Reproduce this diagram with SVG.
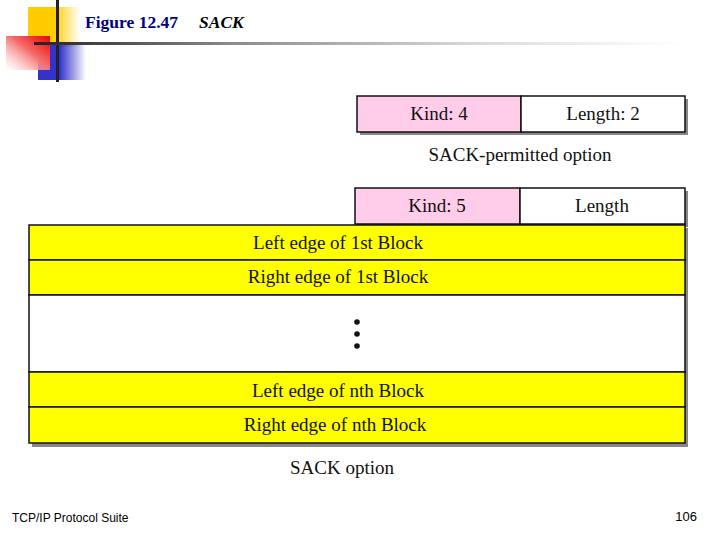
<svg xmlns="http://www.w3.org/2000/svg" width="720" height="540" viewBox="0 0 720 540">
<defs>
<linearGradient id="gy" x1="0" y1="0" x2="1" y2="0"><stop offset="0" stop-color="#ffcc00"/><stop offset="0.5" stop-color="#ffcc00"/><stop offset="1" stop-color="#ffcc00" stop-opacity="0"/></linearGradient>
<linearGradient id="gb" x1="0" y1="0" x2="1" y2="0"><stop offset="0" stop-color="#3333cc"/><stop offset="0.45" stop-color="#3333cc"/><stop offset="1" stop-color="#3333cc" stop-opacity="0"/></linearGradient>
<linearGradient id="gr" x1="1" y1="0" x2="0" y2="1"><stop offset="0" stop-color="#ee0000"/><stop offset="0.45" stop-color="#f66a6a"/><stop offset="1" stop-color="#ffffff" stop-opacity="0.5"/></linearGradient>
<linearGradient id="gl" x1="0" y1="0" x2="1" y2="0"><stop offset="0" stop-color="#222222"/><stop offset="0.3" stop-color="#8a8a8a"/><stop offset="0.7" stop-color="#dddddd"/><stop offset="1" stop-color="#ffffff"/></linearGradient>
<style>
.t{font-family:"Liberation Serif","Times New Roman",serif;font-size:19px;fill:#111;text-anchor:middle}
.box{stroke:#111;stroke-width:1.5}
.pink{fill:#ffccea}
.white{fill:#ffffff}
.yel{fill:#ffff00}
.sh{fill:#888888}
</style>
</defs>
<g id="decoration">
<rect x="28" y="7" width="52" height="40" fill="url(#gy)"/>
<rect x="38" y="45" width="48" height="35" fill="url(#gb)"/>
<rect x="6" y="36" width="44" height="34" fill="url(#gr)"/>
<rect x="56" y="0" width="3" height="82" fill="#222"/>
<rect x="34" y="42" width="650" height="3" fill="url(#gl)"/>
</g>
<g id="title">
<text x="85" y="28" font-family="Liberation Serif,serif" font-size="17.5" font-weight="bold" fill="#000080">Figure 12.47</text>
<text x="199" y="28" font-family="Liberation Serif,serif" font-size="17.5" font-weight="bold" font-style="italic" fill="#000">SACK</text>
</g>
<g id="sack-permitted">
<rect x="360" y="99" width="328" height="36" class="sh"/>
<rect x="357" y="96" width="164" height="36" class="box pink"/>
<rect x="521" y="96" width="164" height="36" class="box white"/>
<text x="439" y="120" class="t">Kind: 4</text>
<text x="603" y="120" class="t">Length: 2</text>
<text x="520" y="161" class="t">SACK-permitted option</text>
</g>
<g id="sack-option">
<rect x="358" y="191" width="330" height="36" class="sh"/>
<rect x="32" y="228" width="656" height="219" class="sh"/>
<rect x="355" y="188" width="165" height="36" class="box pink"/>
<rect x="520" y="188" width="165" height="36" class="box white"/>
<text x="437" y="212" class="t">Kind: 5</text>
<text x="602" y="212" class="t">Length</text>
<rect x="29" y="225" width="656" height="35" class="box yel"/>
<rect x="29" y="260" width="656" height="35" class="box yel"/>
<rect x="29" y="295" width="656" height="77" class="box white"/>
<rect x="29" y="372" width="656" height="35" class="box yel"/>
<rect x="29" y="407" width="656" height="36" class="box yel"/>
<text x="338" y="249" class="t">Left edge of 1st Block</text>
<text x="338" y="283" class="t">Right edge of 1st Block</text>
<circle cx="357" cy="322" r="2.8" fill="#111"/>
<circle cx="357" cy="334" r="2.8" fill="#111"/>
<circle cx="357" cy="346" r="2.8" fill="#111"/>
<text x="338" y="397" class="t">Left edge of  nth Block</text>
<text x="335" y="431" class="t">Right edge of nth Block</text>
<text x="342" y="474" class="t">SACK option</text>
</g>
<g id="footer">
<text x="12" y="522" font-family="Liberation Sans,Arial,sans-serif" font-size="12" fill="#000">TCP/IP Protocol Suite</text>
<text x="697" y="521" font-family="Liberation Sans,Arial,sans-serif" font-size="13" fill="#000" text-anchor="end">106</text>
</g>
</svg>
